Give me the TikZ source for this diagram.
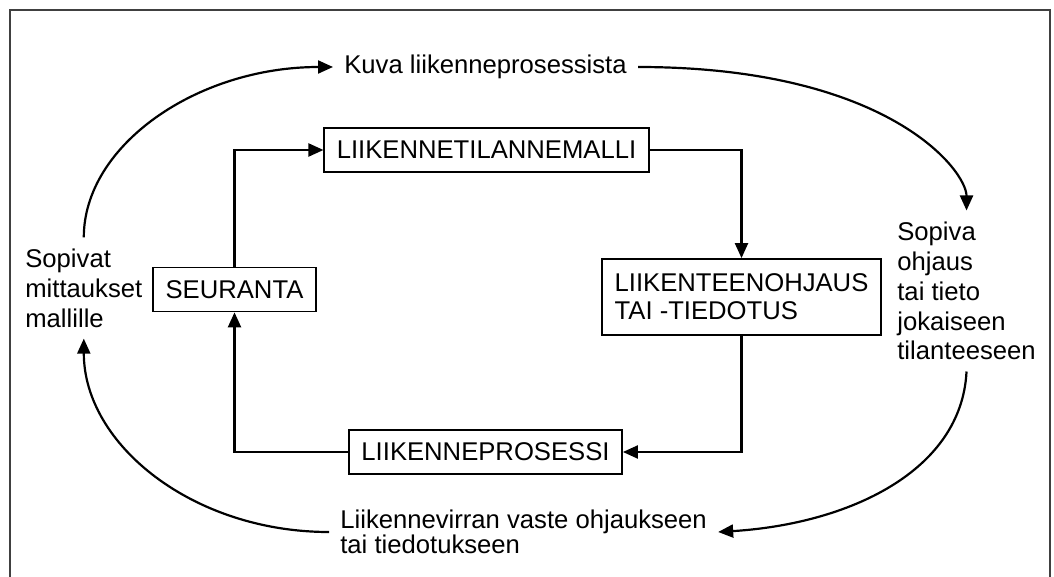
\documentclass[tikz,border=0pt]{standalone}
\usepackage{fontspec}
\setmainfont{Liberation Sans}
\usetikzlibrary{arrows.meta,positioning}

\begin{document}
\begin{tikzpicture} [
      x = 0.02cm, y = -0.02cm,
      font = \fontsize{14.6pt}{17pt}\selectfont,
      box/.style = { draw, line width = 1pt, minimum height = 0.88cm, inner xsep = 0.25cm },
      sidetext/.style = { align = left, inner sep = 0.22cm },
      flow/.style = { line width = 1.25pt, -{Triangle[length = 0.3cm, width = 0.26cm]} }
      ]
    \useasboundingbox (0,0) rectangle (1054,577);
    \draw [line width = 0.7pt, black!75] (10,577) -- (10,10) -- (1050,10) -- (1050,577);

    % inner loop
    \node [box] (malli) at (486.5,150) {LIIKENNETILANNEMALLI};
    \node [box, align = left, minimum height = 1.52cm, font = \fontsize{14.6pt}{16pt}\selectfont] (ohjaus) at (741.5,297) {LIIKENTEENOHJAUS\\TAI -TIEDOTUS};
    \node [box] (prosessi) at (485.5,452) {LIIKENNEPROSESSI};
    \node [box] (seuranta) at (234.5,289.5) {SEURANTA};

    \draw [flow] (seuranta.north) |- (malli.west);
    \draw [flow] (malli.east) -| (ohjaus.north);
    \draw [flow] (ohjaus.south) |- (prosessi.east);
    \draw [flow] (prosessi.west) -| (seuranta.south);

    % outer loop
    \node [sidetext, anchor = west] (kuva) at (333,67) {Kuva liikenneprosessista};
    \node [sidetext, anchor = west] (sopiva) at (886,291) {Sopiva\\ohjaus\\tai tieto\\jokaiseen\\tilanteeseen};
    \node [sidetext, anchor = west, font = \fontsize{14.6pt}{14.4pt}\selectfont] (vaste) at (329,532) {Liikennevirran vaste ohjaukseen\\tai tiedotukseen};
    \node [sidetext, anchor = west] (mitt) at (14,288) {Sopivat\\mittaukset\\mallille};

    \draw [flow] (mitt.north) .. controls +(0,-92) and +(-136,0) .. (kuva.west);
    \draw [flow] (kuva.east) .. controls +(250,0) and +(0,-40) .. (sopiva.north);
    \draw [flow] (sopiva.south) .. controls +(-5,100) and +(130,-8) .. (vaste.east);
    \draw [flow] (vaste.west) .. controls +(-136,0) and +(0,106) .. (mitt.south);
\end{tikzpicture}
\end{document}
